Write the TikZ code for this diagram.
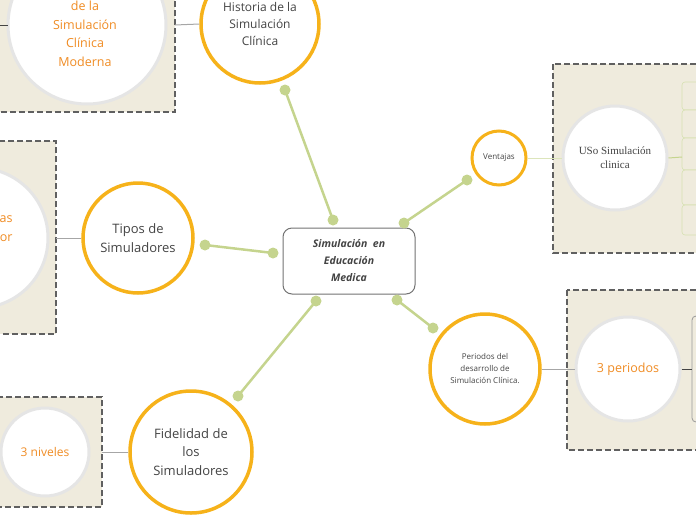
\documentclass[tikz,border=0pt]{standalone}
\usepackage{fontspec}
\setmainfont{Open Sans}
\newfontfamily\handfont{Liberation Serif}
\begin{document}
\begin{tikzpicture}[x=1pt,y=-1pt,
  topic/.style={circle,draw=ybor,line width=3.5pt,fill=white,align=center,text=txt},
  sub/.style={circle,draw=gray!20,line width=3pt,fill=white,align=center,text=orng},
  grp/.style={draw=gray!75!black,dash pattern=on 6pt off 3pt,line width=1.1pt,fill=beige},
  link/.style={draw=grn,line width=2.5pt},
  dot/.style={circle,fill=grn,inner sep=0pt,minimum size=11pt},
  thin/.style={draw=gray!70,line width=1pt}]
\definecolor{ybor}{HTML}{F6B21A}
\definecolor{grn}{HTML}{C5D48E}
\definecolor{beige}{HTML}{EFEBDD}
\definecolor{orng}{HTML}{F08C24}
\definecolor{txt}{HTML}{444444}
\useasboundingbox (0,0) rectangle (696,520);
\begin{scope}
\clip (0,0) rectangle (696,520);
% groups
\draw[grp] (-20,-20) rectangle (175,112);
\draw[grp] (-20,141) rectangle (56,334);
\draw[grp] (-20,397) rectangle (102,507);
\draw[grp] (553,64) rectangle (710,253);
\draw[grp] (567,290) rectangle (710,450);
% sub circles
\node[sub,minimum size=158pt] (s1) at (87,25) {};
\node[text=orng,align=center,font=\fontsize{12.5}{18.5}\selectfont] at (85,34) {de la\\Simulación\\Clínica\\Moderna};
\node[sub,minimum size=140pt] (s2) at (-22,238) {};
\node[text=orng,align=right,font=\fontsize{12.5}{19}\selectfont,anchor=east] at (16,229) {ías\\por};
\node[sub,minimum size=88pt] (s3) at (45,452) {};
\node[text=orng,font=\fontsize{12}{14}\selectfont] at (45,452) {3 niveles};
\node[sub,minimum size=104pt,text=txt,font=\handfont\fontsize{11}{14}\selectfont] (s4) at (615,158) {USo Simulación\\clinica};
\node[sub,minimum size=104pt,font=\fontsize{12.5}{14}\selectfont] (s5) at (628,369) {3 periodos};
% right side boxes
\foreach \a/\b in {82/110,110/138,138/170,170/205,205/235}
  \draw[grn!70,line width=0.6pt,rounded corners=3pt,fill=beige] (682,\a) rectangle (710,\b);
\draw[grn,line width=1pt] (s4.east) -- (682,157);
\draw[gray!80,line width=0.8pt,rounded corners=4pt,fill=beige] (692,316) rectangle (710,422);
\draw[txt,line width=1pt] (s5.east) -- (692,369);
\draw[txt,line width=1pt] (0,25) -- (8,25);
% topics
\node[topic,minimum size=118pt,font=\fontsize{12}{17}\selectfont] (hist) at (260,24) {Historia de la\\Simulación\\Clínica};
\node[topic,minimum size=110pt,font=\fontsize{13}{19}\selectfont] (tipos) at (138,238) {Tipos de\\Simuladores};
\node[topic,minimum size=122pt,font=\fontsize{13}{18.5}\selectfont] (fid) at (191,452) {Fidelidad de\\los\\Simuladores};
\node[topic,minimum size=54pt,line width=3pt,font=\fontsize{8}{10}\selectfont] (vent) at (499,158) {Ventajas};
\node[topic,minimum size=110pt,font=\fontsize{8}{12}\selectfont] (per) at (485,369) {Periodos del\\desarrollo de\\Simulación Clínica.};
% group links
\draw[thin] (hist.west) -- (175,25);
\draw[thin] (tipos.west) -- (56,238);
\draw[thin] (fid.west) -- (102,452);
\draw[grn!60,line width=1pt] (vent.east) -- (s4.west);
\draw[thin] (per.east) -- (s5.west);
% center
\node[draw=gray!90!black,line width=1pt,rounded corners=9pt,fill=white,minimum width=132pt,minimum height=66pt,align=center,text=txt,font=\bfseries\itshape\fontsize{10.5}{17}\selectfont] (c) at (349,261) {Simulación\ \ en\\Educación\\Medica};
% connectors
\foreach \n/\ax/\ay/\bx/\by in {a/333/220/285/90, b/273/253/205/245, d/316/301/238/396, e/404/223/467/180, f/397/300/433/328}{
  \coordinate (\n1) at (\ax,\ay); \coordinate (\n2) at (\bx,\by);
  \draw[link] (\n1) -- (\n2);
  \node[dot] at (\n1) {}; \node[dot] at (\n2) {};
}
\end{scope}
\end{tikzpicture}
\end{document}
